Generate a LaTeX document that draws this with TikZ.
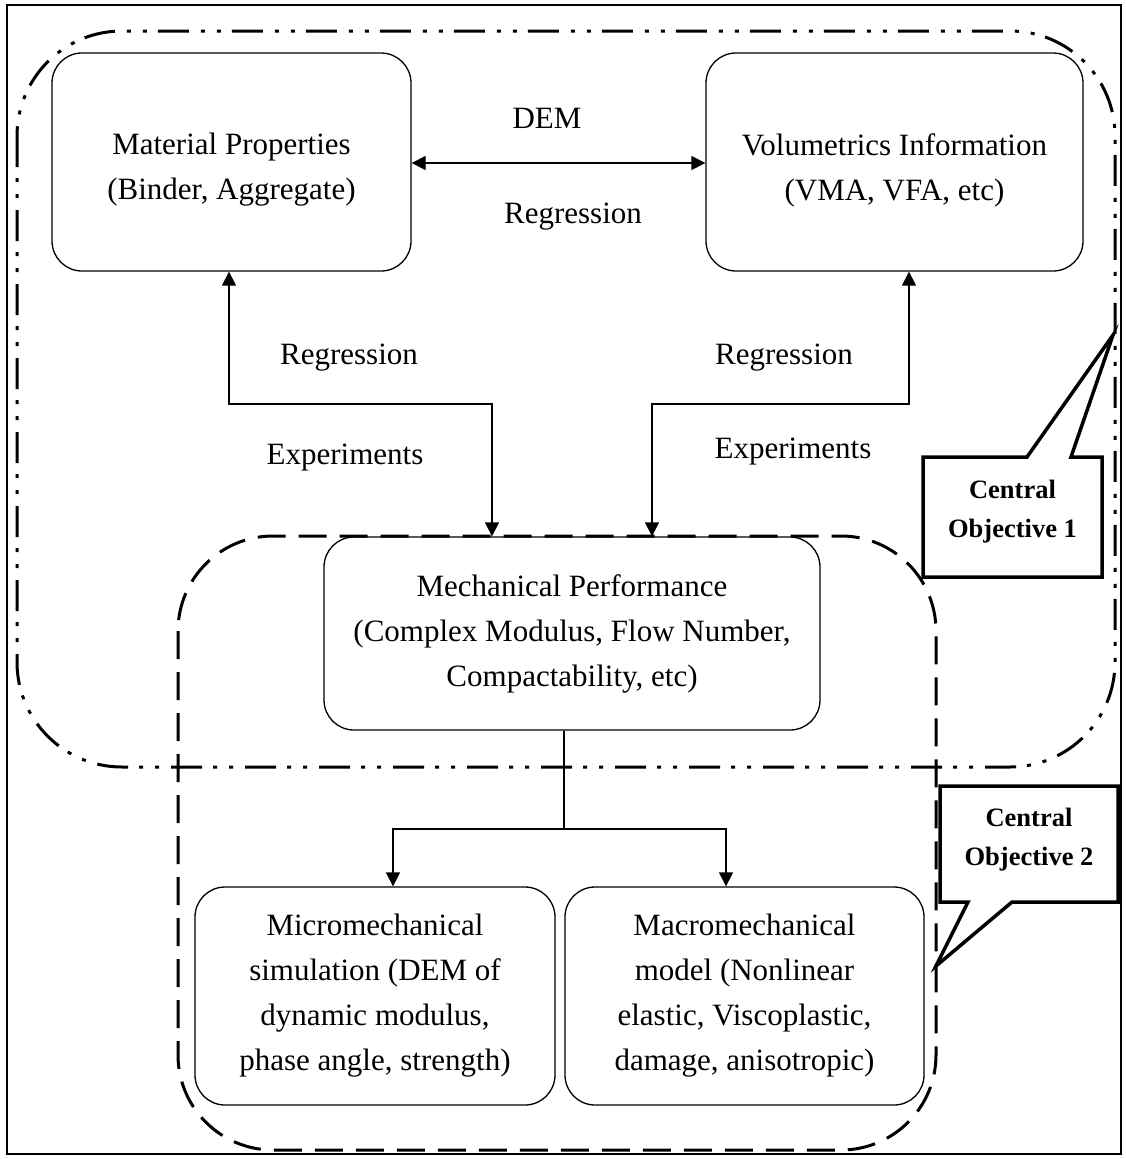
\documentclass[tikz,border=0pt]{standalone}
\usepackage{fontspec}
\setmainfont{Liberation Serif}
\usetikzlibrary{arrows.meta}
\begin{document}
\begin{tikzpicture}[x=1pt,y=-1pt,
  box/.style={draw, line width=1.3pt, rounded corners=30pt, inner sep=0pt, align=center,
    font=\fontsize{31}{45}\selectfont},
  txt/.style={font=\fontsize{31}{45}\selectfont, align=center, inner sep=0pt},
  lbl/.style={font=\fontsize{31}{45}\selectfont, inner sep=0pt},
  conn/.style={line width=1.3pt},
  tipend/.style={-{Triangle[length=14pt,width=14pt]}},
  tipboth/.style={{Triangle[length=14pt,width=14pt]}-{Triangle[length=14pt,width=14pt]}},
  dashbox/.style={line width=3pt, dash pattern=on 28pt off 13pt, rounded corners=95pt},
  dddbox/.style={line width=3pt, dash pattern=on 31pt off 11pt on 4pt off 12pt on 4pt off 12pt, rounded corners=105pt},
  callout/.style={line width=3.5pt, line join=miter, fill=white},
  ctext/.style={font=\fontsize{26.5}{39}\selectfont\bfseries, align=center, inner sep=0pt},
]
\useasboundingbox (0,0) rectangle (1126,1159);
\draw[line width=1.5pt] (7,5) rectangle (1121,1154);

% group outlines
\draw[dddbox] (17,31) rectangle (1115,767);
\draw[dashbox] (178,536) rectangle (936,1150);

% boxes
\node[box, minimum width=359pt, minimum height=218pt] (mat) at (231.5,162) {};
\node[txt] (mattxt) at ([yshift=-8pt]mat.center) {Material Properties\\(Binder, Aggregate)};
\node[box, minimum width=377pt, minimum height=218pt] (vol) at (894.5,162) {};
\node[txt] (voltxt) at ([yshift=-8pt]vol.center) {Volumetrics Information\\(VMA, VFA, etc)};
\node[box, minimum width=496pt, minimum height=193pt] (mech) at (572,633.5)
  {Mechanical Performance\\(Complex Modulus, Flow Number,\\Compactability, etc)};
\node[box, minimum width=360pt, minimum height=218pt] (micro) at (375,996)
  {Micromechanical\\simulation (DEM of\\dynamic modulus,\\phase angle, strength)};
\node[box, minimum width=359pt, minimum height=218pt] (macro) at (744.5,996)
  {Macromechanical\\model (Nonlinear\\elastic, Viscoplastic,\\damage, anisotropic)};

% connectors
\draw[conn, tipboth] (mat.east |- 0,163) -- (vol.west |- 0,163);
\coordinate (la) at (229,404);
\coordinate (lb) at (492,404);
\coordinate (ra) at (909,404);
\coordinate (rb) at (652,404);
\draw[conn, tipboth] (mat.south -| la) -- (la) -- (lb) -- (mech.north -| lb);
\draw[conn, tipboth] (vol.south -| ra) -- (ra) -- (rb) -- (mech.north -| rb);
\coordinate (jn) at (564,829);
\coordinate (jl) at (393,829);
\coordinate (jr) at (726,829);
\draw[conn] (mech.south -| jn) -- (jn);
\draw[conn, tipend] (jn) -- (jl) -- (micro.north -| jl);
\draw[conn, tipend] (jn) -- (jr) -- (macro.north -| jr);

% labels
\node[lbl] (ldem) at (547,118) {DEM};
\node[lbl] (lreg) at (573,217) {Regression};
\node[lbl] (lregl) at (349,358) {Regression};
\node[lbl] (lregr) at (784,358) {Regression};
\node[lbl] (lexpl) at (345,458) {Experiments};
\node[lbl] (lexpr) at (793,452) {Experiments};

% callouts
\draw[callout] (923,457) -- (1027,457) -- (1113,335) -- (1071,457) -- (1102,457)
  -- (1102,577) -- (923,577) -- cycle;
\node[ctext] (co1) at (1012.5,512) {Central\\Objective 1};
\draw[callout] (940,786) -- (1118,786) -- (1118,902) -- (1012,902) -- (936,966)
  -- (968,902) -- (940,902) -- cycle;
\node[ctext] (co2) at (1029,840) {Central\\Objective 2};
\end{tikzpicture}
\end{document}
